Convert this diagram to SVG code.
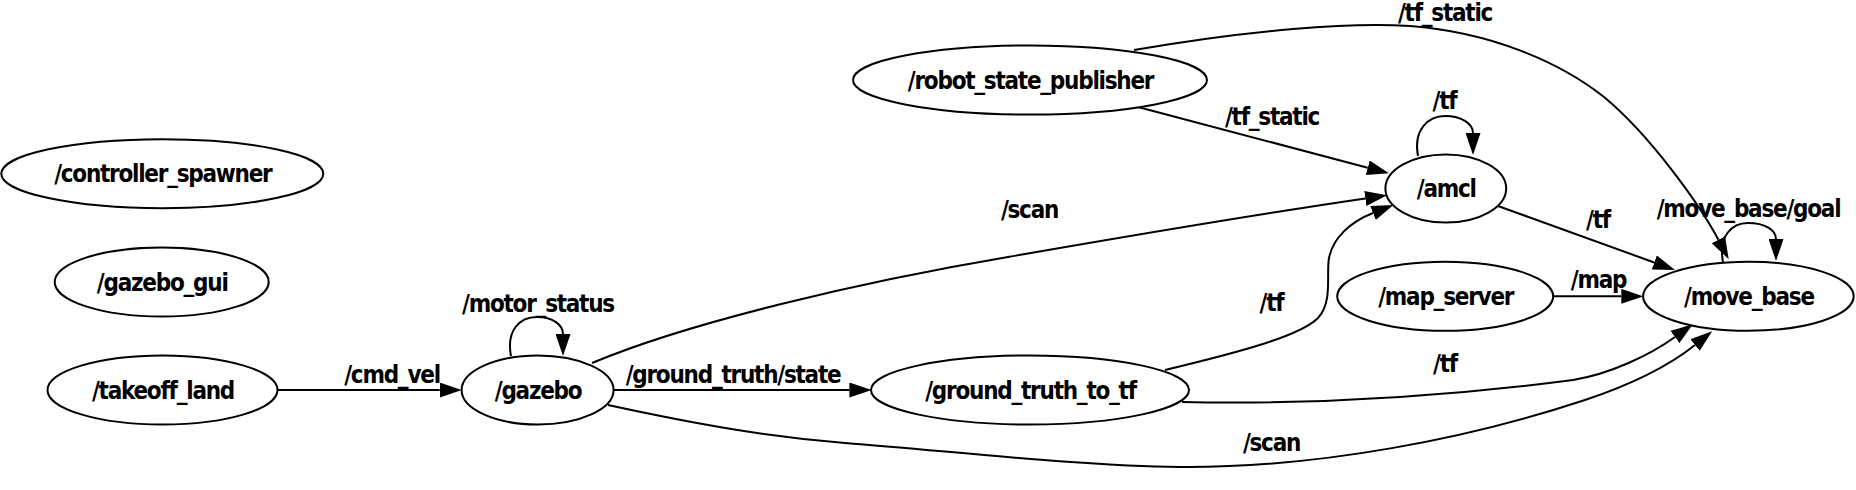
<svg xmlns="http://www.w3.org/2000/svg" width="1856" height="490" viewBox="0 0 1856 490">
<style>
.node ellipse{fill:#fff;stroke:#000;stroke-width:2}
text{font-family:"DejaVu Sans Condensed","DejaVu Sans","Liberation Sans",sans-serif;font-weight:bold;font-size:24px;letter-spacing:-1.25px;fill:#000;text-anchor:middle}
.edge path{fill:none;stroke:#000;stroke-width:2;marker-end:url(#arr)}
</style>
<defs>
<marker id="arr" markerUnits="userSpaceOnUse" viewBox="0 0 22 15" markerWidth="22" markerHeight="15" refX="0" refY="7.5" orient="auto">
<path d="M0,0 L22,7.5 L0,15 z" fill="#000"/>
</marker>
</defs>
<rect width="1856" height="490" fill="#fff"/>
<g id="edges" class="edge">
<path d="M277.5,390 L439.7,390"/>
<path d="M511,356 C506,330 520,317 537,317 C553,317 563,325 563,334"/>
<path d="M613.4,390 L849.4,390"/>
<path d="M592,363 C690,322 860,282 1008,257 C1140,234 1280,211 1365.3,198.5"/>
<path d="M1138,107 L1367.7,167.7"/>
<path d="M1134,50 C1250,30 1350,22 1410,26 C1490,32 1560,62 1604,97 C1650,135 1700,205 1718.4,239.7"/>
<path d="M1418,156 C1413,130 1428,116 1445,116 C1462,116 1473,124 1473,133"/>
<path d="M1498,206 L1654.3,262.5"/>
<path d="M1553.5,296.3 L1621.3,296.3"/>
<path d="M1165,370 C1240,352 1300,336 1318,318 C1333,302 1326,275 1329,258 C1333,238 1350,222 1373,213"/>
<path d="M1182,402 C1280,404 1420,400 1573,380 C1610,374 1650,355 1675,337"/>
<path d="M608,405 C700,425 770,437 845,443 C960,452 1080,466 1180,467 C1320,468 1470,438 1585,400 C1630,385 1670,365 1695,345"/>
<path d="M1723,262 C1718,236 1732,223 1748,223 C1765,223 1776,230 1776,239"/>
<text x="392" y="383">/cmd_vel</text>
<text x="538" y="311.5">/motor_status</text>
<text x="733" y="383">/ground_truth/state</text>
<text x="1029.5" y="218">/scan</text>
<text x="1272" y="125">/tf_static</text>
<text x="1445" y="20.5">/tf_static</text>
<text x="1444.5" y="109">/tf</text>
<text x="1598" y="228">/tf</text>
<text x="1598.5" y="288.3">/map</text>
<text x="1271.5" y="310.5">/tf</text>
<text x="1445" y="372">/tf</text>
<text x="1271.5" y="451">/scan</text>
<text x="1748.5" y="217">/move_base/goal</text>
</g>
<g id="controller_spawner" class="node"><ellipse cx="162.3" cy="173.7" rx="161" ry="34.5"/><text x="162.8" y="182.3">/controller_spawner</text></g>
<g id="gazebo_gui" class="node"><ellipse cx="161.7" cy="282" rx="107" ry="34.5"/><text x="162.2" y="290.5">/gazebo_gui</text></g>
<g id="takeoff_land" class="node"><ellipse cx="162.5" cy="390" rx="115" ry="34.5"/><text x="163" y="398.5">/takeoff_land</text></g>
<g id="gazebo" class="node"><ellipse cx="537.6" cy="390" rx="76" ry="34.5"/><text x="538.1" y="398.5">/gazebo</text></g>
<g id="robot_state_publisher" class="node"><ellipse cx="1030" cy="80" rx="177" ry="34.5"/><text x="1030.5" y="88.5">/robot_state_publisher</text></g>
<g id="ground_truth_to_tf" class="node"><ellipse cx="1030" cy="390" rx="159" ry="34.5"/><text x="1030.5" y="398.5">/ground_truth_to_tf</text></g>
<g id="amcl" class="node"><ellipse cx="1445.8" cy="188.5" rx="60.4" ry="34"/><text x="1446.3" y="196.8">/amcl</text></g>
<g id="map_server" class="node"><ellipse cx="1445.2" cy="296.3" rx="108" ry="34.5"/><text x="1445.7" y="304.8">/map_server</text></g>
<g id="move_base" class="node"><ellipse cx="1748.4" cy="296.3" rx="105.3" ry="34.5"/><text x="1748.9" y="304.8">/move_base</text></g>
</svg>
